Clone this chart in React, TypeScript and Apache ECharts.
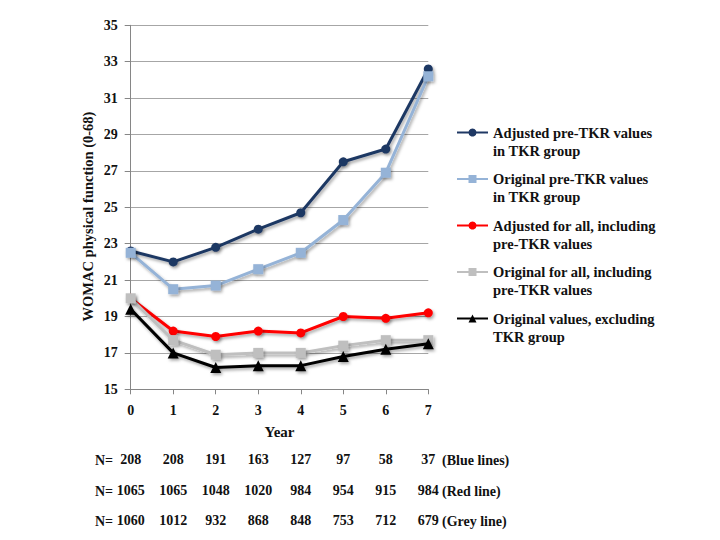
import React, { useEffect, useRef } from "react";
import * as echarts from "echarts";

const years = ["0", "1", "2", "3", "4", "5", "6", "7"];
const adjustedTKR = [22.6, 22.0, 22.8, 23.8, 24.7, 27.5, 28.2, 32.6];
const originalTKR = [22.5, 20.5, 20.7, 21.6, 22.5, 24.3, 26.9, 32.2];
const adjustedAll = [20.0, 18.2, 17.9, 18.2, 18.1, 19.0, 18.9, 19.2];
const originalAll = [20.0, 17.7, 16.9, 17.0, 17.0, 17.4, 17.7, 17.7];
const originalExcl = [19.4, 17.0, 16.2, 16.3, 16.3, 16.8, 17.2, 17.5];

const nBlue = [208, 208, 191, 163, 127, 97, 58, 37];
const nRed = [1065, 1065, 1048, 1020, 984, 954, 915, 984];
const nGrey = [1060, 1012, 932, 868, 848, 753, 712, 679];
const nRowNotes = ["(Blue lines)", "(Red line)", "(Grey line)"];

const yTitle = "WOMAC physical function (0-68)";

const seriesNames = [
  "Adjusted pre-TKR values in TKR group",
  "Original pre-TKR values in TKR group",
  "Adjusted for all, including pre-TKR values",
  "Original for all, including pre-TKR values",
  "Original values, excluding TKR group",
];
const legendLines = [
  ["Adjusted pre-TKR values", "in TKR group"],
  ["Original pre-TKR values", "in TKR group"],
  ["Adjusted for all, including", "pre-TKR values"],
  ["Original for all, including", "pre-TKR values"],
  ["Original values, excluding", "TKR group"],
];

const FONT = "'Liberation Serif', 'Times New Roman', serif";

export default function App() {
  const ref = useRef<HTMLDivElement>(null);
  useEffect(() => {
    if (!ref.current) return;
    const chart = echarts.init(ref.current, undefined, { renderer: "svg" });
    const dataSets = [adjustedTKR, originalTKR, adjustedAll, originalAll, originalExcl];
    const colors = ["#1F3864", "#95B3D7", "#FF0000", "#BFBFBF", "#000000"];
    const symbols = ["circle", "rect", "circle", "rect", "triangle"];
    const sizes = [9, 10, 9, 10, 11];
    const shadow = {
      shadowColor: "rgba(0,0,0,0.35)",
      shadowBlur: 3,
      shadowOffsetX: 1.5,
      shadowOffsetY: 2,
    };
    const series = dataSets.map((d, i) => ({
      name: seriesNames[i],
      type: "line",
      data: d,
      symbol: symbols[i],
      symbolSize: sizes[i],
      lineStyle: { color: colors[i], width: 3, ...shadow },
      itemStyle: { color: colors[i], ...shadow },
      z: 2 + i,
    }));

    const legendTops = [105.5, 152, 198.5, 245, 291.5];
    const legends = seriesNames.map((n, i) => ({
      data: [n],
      orient: "vertical",
      left: 456,
      top: legendTops[i],
      padding: 0,
      itemWidth: 31,
      itemHeight: 10,
      selectedMode: false,
      formatter: () => " \n" + legendLines[i][0] + "\n" + legendLines[i][1],
      textStyle: {
        fontFamily: FONT,
        fontWeight: "bold",
        fontSize: 14.5,
        lineHeight: 18,
        color: "#111",
      },
    }));

    const rowOffsets = [63.5, 94.5, 124.5];
    const rowData = [nBlue, nRed, nGrey];
    const extraX = rowData.map((r, i) => ({
      type: "category",
      boundaryGap: false,
      data: r.map(String),
      position: "bottom",
      offset: rowOffsets[i],
      axisLine: { show: false },
      axisTick: { show: false },
      splitLine: { show: false },
      axisLabel: {
        interval: 0,
        margin: 0,
        fontFamily: FONT,
        fontWeight: "bold",
        fontSize: 14,
        color: "#111",
      },
    }));

    const rowY = [460, 491, 521];
    const graphics: any[] = [
      {
        type: "text",
        x: 87.5,
        y: 216.5,
        rotation: Math.PI / 2,
        style: {
          text: yTitle,
          fill: "#111",
          font: `bold 14.5px ${FONT}`,
          align: "center",
          verticalAlign: "middle",
        },
      },
    ];
    rowY.forEach((y, i) => {
      graphics.push({
        type: "text",
        x: 95,
        y,
        style: {
          text: "N=",
          fill: "#111",
          font: `bold 14px ${FONT}`,
          verticalAlign: "middle",
        },
      });
      graphics.push({
        type: "text",
        x: 442,
        y,
        style: {
          text: nRowNotes[i],
          fill: "#111",
          font: `bold 14px ${FONT}`,
          verticalAlign: "middle",
        },
      });
    });

    chart.setOption({
      animation: false,
      backgroundColor: "#fff",
      grid: {
        left: 130.7,
        right: 291.7,
        top: 25.3,
        bottom: 150.7,
        containLabel: false,
        outerBoundsMode: "none",
      },
      legend: legends,
      xAxis: [
        {
          type: "category",
          boundaryGap: false,
          data: years,
          name: "Year",
          nameLocation: "middle",
          nameGap: 35,
          nameTextStyle: {
            fontFamily: FONT,
            fontWeight: "bold",
            fontSize: 15,
            color: "#111",
          },
          axisLine: { show: true, lineStyle: { color: "#868686", width: 1 } },
          axisTick: { show: true, length: 5, lineStyle: { color: "#868686" } },
          splitLine: { show: false },
          axisLabel: {
            margin: 14,
            fontFamily: FONT,
            fontWeight: "bold",
            fontSize: 14,
            color: "#111",
          },
        },
        ...extraX,
      ],
      yAxis: {
        type: "value",
        min: 15,
        max: 35,
        interval: 2,
        axisLine: { show: true, lineStyle: { color: "#868686", width: 1 } },
        axisTick: { show: true, length: 6, lineStyle: { color: "#868686" } },
        splitLine: { show: true, lineStyle: { color: "#A6A6A6", width: 1 } },
        axisLabel: {
          margin: 13,
          fontFamily: FONT,
          fontWeight: "bold",
          fontSize: 14,
          color: "#111",
        },
      },
      graphic: graphics,
      series,
    });
    return () => chart.dispose();
  }, []);
  return (
    <div
      ref={ref}
      style={{ position: "fixed", left: 0, top: 0, width: 720, height: 540 }}
    />
  );
}
